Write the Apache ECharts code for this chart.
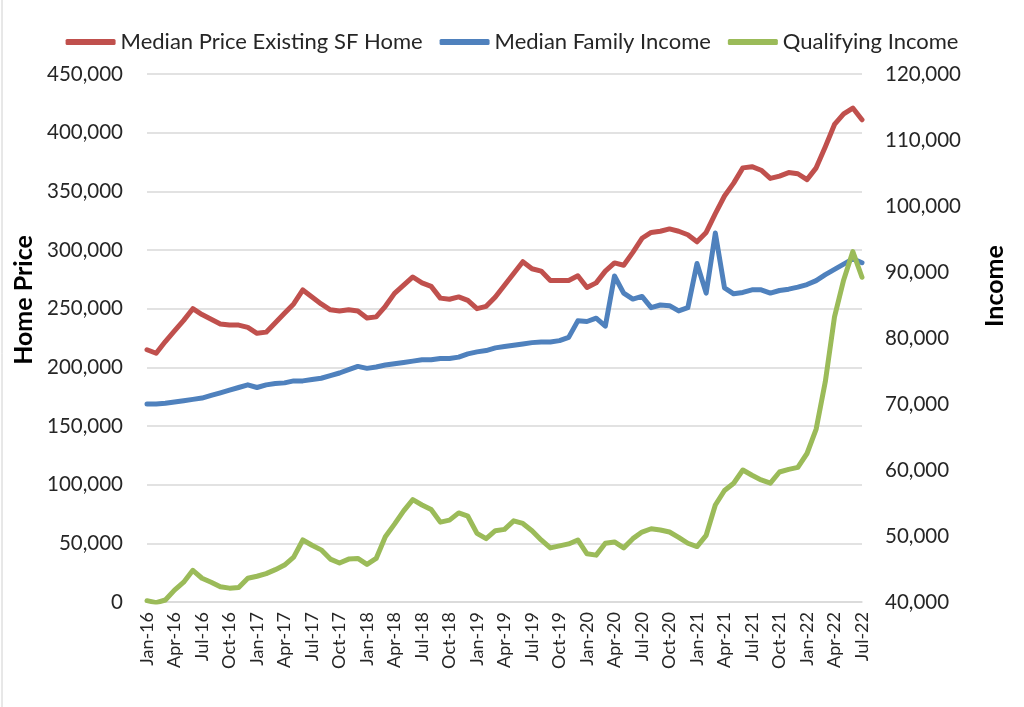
<!DOCTYPE html>
<html>
<head>
<meta charset="utf-8">
<script src="https://cdn.jsdelivr.net/npm/echarts@6/dist/echarts.min.js"></script>
<style>
  html, body { margin: 0; padding: 0; background: #fff; }
  #chart { width: 1024px; height: 707px; }
</style>
</head>
<body>
<div id="chart"></div>
<script>
const monthNames = ['Jan','Feb','Mar','Apr','May','Jun','Jul','Aug','Sep','Oct','Nov','Dec'];
const years = ['16','17','18','19','20','21','22'];

// Jan-16 .. Jul-22, monthly
const months = [];
years.forEach(y => monthNames.forEach(m => months.push(m + '-' + y)));
months.length = 79;

// median price of existing single family home (left axis)
const homePrice = [
  215000,212000,222000,231000,240000,250000,245000,241000,237000,236000,236000,234000,
  229000,230000,238000,246000,254000,266000,260000,254000,249000,248000,249000,248000,
  242000,243000,252000,263000,270000,277000,272000,269000,259000,258000,260000,257000,
  250000,252000,260000,270000,280000,290000,284000,282000,274000,274000,274000,278000,
  268000,272000,282000,289000,287000,298000,310000,315000,316000,318000,316000,313000,
  307000,315000,331000,346000,357000,370000,371000,368000,361000,363000,366000,365000,
  360000,370000,388000,407000,416000,421000,411000
];

// median family income (right axis)
const familyIncome = [
  70000,70000,70100,70300,70500,70700,70900,71300,71700,72100,72500,72900,
  72500,72900,73100,73200,73500,73500,73700,73900,74300,74700,75200,75700,
  75400,75600,75900,76100,76300,76500,76700,76700,76900,76900,77100,77600,
  77900,78100,78500,78700,78900,79100,79300,79400,79400,79600,80100,82600,
  82500,83000,81800,89400,86800,85900,86300,84600,85000,84900,84100,84600,
  91300,86800,95900,87600,86700,86900,87300,87300,86800,87200,87400,87700,
  88100,88700,89600,90400,91200,92000,91400
];

// income needed to qualify for the median home (right axis)
const qualifyingIncome = [
  40200,39900,40300,41800,43000,44800,43600,43000,42300,42100,42200,43600,
  43900,44300,44900,45600,46800,49400,48600,47900,46500,45900,46500,46600,
  45700,46600,49900,51800,53800,55500,54700,54000,52100,52400,53500,53000,
  50400,49600,50800,51000,52300,51900,50800,49400,48200,48500,48800,49400,
  47300,47100,48900,49100,48200,49600,50600,51100,50900,50600,49800,48900,
  48400,50100,54700,56900,58000,60000,59200,58500,58000,59700,60100,60400,
  62500,66200,73400,83200,88800,93100,89200
];

const FONT = 'Lato';
const fmt = v => v.toLocaleString('en-US');

const chart = echarts.init(document.getElementById('chart'));

function lineSeries(name, data, color, yAxisIndex) {
  return {
    name: name,
    type: 'line',
    data: data,
    yAxisIndex: yAxisIndex,
    showSymbol: false,
    symbol: 'none',
    smooth: false,
    lineStyle: { color: color, width: 5, cap: 'round', join: 'round' },
    itemStyle: { color: color }
  };
}

// rotated axis titles (they sit above the grid centre in the original)
function axisTitle(text, x, y) {
  return {
    type: 'text',
    x: x,
    y: y,
    rotation: Math.PI / 2,
    style: {
      text: text,
      fontFamily: FONT,
      fontSize: 25,
      fontWeight: 'bold',
      fill: '#000',
      align: 'center',
      verticalAlign: 'middle'
    }
  };
}

chart.setOption({
  animation: false,
  textStyle: { fontFamily: FONT },
  legend: {
    top: 26,
    left: 'center',
    icon: 'roundRect',
    itemWidth: 50,
    itemHeight: 6,
    itemGap: 17,
    textStyle: { fontFamily: FONT, fontSize: 22, color: '#262626' },
    data: ['Median Price Existing SF Home', 'Median Family Income', 'Qualifying Income']
  },
  graphic: [
    axisTitle('Home Price', 24, 300),
    axisTitle('Income', 995, 286),
    // thin frame edge at the far left
    { type: 'line', shape: { x1: 2, y1: 0, x2: 2, y2: 707 }, style: { stroke: '#d0d0d0', lineWidth: 1 } }
  ],
  grid: { left: 147, right: 162, top: 74, bottom: 105 },
  xAxis: {
    type: 'category',
    data: months,
    boundaryGap: false,
    axisLine: { lineStyle: { color: '#d9d9d9', width: 1.5 } },
    axisTick: { show: false },
    axisLabel: {
      rotate: 90,
      interval: 2,
      fontFamily: FONT,
      fontSize: 18,
      color: '#262626',
      margin: 10
    }
  },
  yAxis: [
    {
      type: 'value',
      min: 0,
      max: 450000,
      interval: 50000,
      axisLine: { show: false },
      axisTick: { show: false },
      splitLine: { lineStyle: { color: '#d9d9d9', width: 1.5 } },
      axisLabel: { formatter: fmt, fontFamily: FONT, fontSize: 20.5, color: '#262626', margin: 24 }
    },
    {
      type: 'value',
      min: 40000,
      max: 120000,
      interval: 10000,
      position: 'right',
      axisLine: { show: false },
      axisTick: { show: false },
      splitLine: { show: false },
      axisLabel: { formatter: fmt, fontFamily: FONT, fontSize: 20.5, color: '#262626', margin: 23 }
    }
  ],
  series: [
    lineSeries('Median Price Existing SF Home', homePrice, '#c0504d', 0),
    lineSeries('Median Family Income', familyIncome, '#4f81bd', 1),
    lineSeries('Qualifying Income', qualifyingIncome, '#9bbb59', 1)
  ]
});
</script>
</body>
</html>
